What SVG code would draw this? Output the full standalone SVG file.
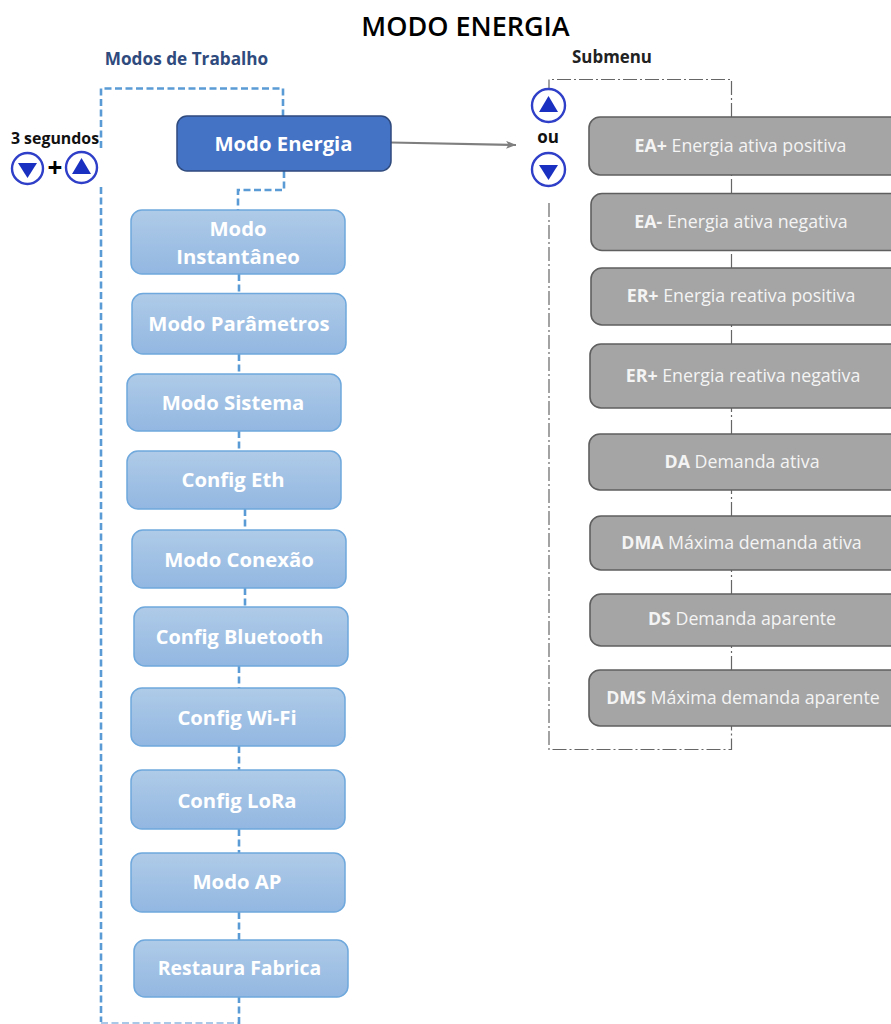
<svg xmlns="http://www.w3.org/2000/svg" width="891" height="1024" viewBox="0 0 891 1024">
<style>
text{font-family:"Open Sans","Noto Sans","Liberation Sans",sans-serif}
.m{fill:url(#lb);stroke:#6fa8dc;stroke-width:1.5}
.s{fill:#a5a5a5;stroke:#5f5f5f;stroke-width:1.6}
.mt{fill:#fff;font-size:20.3px;font-weight:700;text-anchor:middle}
.st{fill:#f4f4f4;font-size:17.8px;text-anchor:middle}
.st tspan{font-weight:700}
.d{fill:none;stroke:#5b9bd5;stroke-width:2.6;stroke-dasharray:7 3.5}
.g{fill:none;stroke:#666;stroke-width:1.2;stroke-dasharray:14 3 2 3}
.b{fill:#fff;stroke:#2f3fc8;stroke-width:2.4}
.t{fill:#1a30c0}
.h{font-weight:700;text-anchor:middle}
</style>
<defs>
<linearGradient id="lb" x1="0" y1="0" x2="0" y2="1"><stop offset="0" stop-color="#afcbe8"/><stop offset="1" stop-color="#92b7e1"/></linearGradient>
<marker id="arr" markerWidth="11" markerHeight="9" refX="10" refY="4" orient="auto" markerUnits="userSpaceOnUse"><path d="M0 0L10 4L0 8L2.500 4Z" fill="#7f7f7f"/></marker>
</defs>
<text x="465.500" y="36" class="h" style="font-size:27px;font-weight:600;fill:#000">MODO ENERGIA</text>
<text x="186.500" y="65" class="h" style="font-size:17.2px;fill:#2f4a7d">Modos de Trabalho</text>
<text x="612" y="63" class="h" style="font-size:16.9px;fill:#222">Submenu</text>

<g id="connectors">
<path class="d" d="M101 148V88.500H283V116"/>
<path class="d" d="M101 187V1022"/>
<path d="M101 1023H239" fill="none" stroke="#a9c8e8" stroke-width="2" stroke-dasharray="7 3.500"/>
<path class="d" d="M239 1024V997"/>
<path class="d" d="M284 171V190H238V210"/>
<path class="d" d="M239 274V293M239 354V374M239 431V451M245 509V530M245 588V607M239 666V688M239 746V770M239 829V853M239 912V940"/>
<path class="g" d="M549 203V749.500H731.500V726M731.500 670V646M731.500 594V570M731.500 516V490M731.500 434V408M731.500 344V325M731.500 268V250M731.500 193V175M731.500 117V79.500H549V95"/>
<path d="M391 142.500L516 145" fill="none" stroke="#7f7f7f" stroke-width="2.200" marker-end="url(#arr)"/>
</g>

<g id="node-modo-energia"><rect x="177" y="116" width="214" height="55" rx="10" fill="#4472c4" stroke="#2f4a7d" stroke-width="1.500"/><text x="283.500" y="151" class="mt">Modo Energia</text></g>
<g id="node-instantaneo"><rect class="m" x="131" y="210" width="214" height="64" rx="11"/><text x="238" y="236" class="mt">Modo</text><text x="238" y="264" class="mt">Instantâneo</text></g>
<g id="node-parametros"><rect class="m" x="132" y="293.500" width="214" height="60.500" rx="11"/><text x="239" y="331" class="mt">Modo Parâmetros</text></g>
<g id="node-sistema"><rect class="m" x="127" y="374" width="214" height="57" rx="11"/><text x="233" y="410" class="mt">Modo Sistema</text></g>
<g id="node-eth"><rect class="m" x="127" y="451" width="214" height="58" rx="11"/><text x="233" y="487" class="mt">Config Eth</text></g>
<g id="node-conexao"><rect class="m" x="132" y="530" width="214" height="58" rx="11"/><text x="239" y="567" class="mt">Modo Conexão</text></g>
<g id="node-bluetooth"><rect class="m" x="134" y="607" width="214" height="59" rx="11"/><text x="239.500" y="644" class="mt" style="font-size:19.900px">Config Bluetooth</text></g>
<g id="node-wifi"><rect class="m" x="131" y="688" width="214" height="58" rx="11"/><text x="237" y="725" class="mt">Config Wi-Fi</text></g>
<g id="node-lora"><rect class="m" x="131" y="770" width="214" height="59" rx="11"/><text x="237" y="808" class="mt">Config LoRa</text></g>
<g id="node-ap"><rect class="m" x="131" y="853" width="214" height="59" rx="11"/><text x="237" y="889" class="mt">Modo AP</text></g>
<g id="node-restaura"><rect class="m" x="134" y="940" width="214" height="57" rx="11"/><text x="239.500" y="975" class="mt" style="font-size:19.400px">Restaura Fabrica</text></g>

<g id="node-ea-pos"><rect class="s" x="589" y="117" width="320" height="58" rx="11"/><text x="740.500" y="151.500" class="st"><tspan>EA+</tspan> Energia ativa positiva</text></g>
<g id="node-ea-neg"><rect class="s" x="591" y="193.500" width="320" height="57" rx="11"/><text x="741" y="227.500" class="st"><tspan>EA-</tspan> Energia ativa negativa</text></g>
<g id="node-er-pos"><rect class="s" x="591" y="268" width="320" height="57" rx="11"/><text x="741" y="302" class="st"><tspan>ER+</tspan> Energia reativa positiva</text></g>
<g id="node-er-neg"><rect class="s" x="590" y="344" width="320" height="64" rx="11"/><text x="743" y="382" class="st"><tspan>ER+</tspan> Energia reativa negativa</text></g>
<g id="node-da"><rect class="s" x="589" y="434" width="320" height="56" rx="11"/><text x="742" y="468" class="st"><tspan>DA</tspan> Demanda ativa</text></g>
<g id="node-dma"><rect class="s" x="590" y="516" width="320" height="54" rx="11"/><text x="741.500" y="549" class="st"><tspan>DMA</tspan> Máxima demanda ativa</text></g>
<g id="node-ds"><rect class="s" x="590" y="594" width="320" height="52" rx="11"/><text x="742" y="625" class="st"><tspan>DS</tspan> Demanda aparente</text></g>
<g id="node-dms"><rect class="s" x="589" y="670" width="320" height="56" rx="11"/><text x="743" y="704" class="st"><tspan>DMS</tspan> Máxima demanda aparente</text></g>

<g id="hint-left">
<text x="55" y="144" class="h" style="font-size:15.900px;fill:#111">3 segundos</text>
<circle class="b" cx="27.500" cy="168.500" r="15.500"/><path class="t" d="M18 163H37L27.500 178Z"/>
<text x="55" y="177" class="h" style="font-size:26px;fill:#000">+</text>
<circle class="b" cx="81.500" cy="167.500" r="15.500"/><path class="t" d="M72 174H91L81.500 158Z"/>
</g>
<g id="hint-right">
<circle class="b" cx="548.500" cy="105.500" r="16.500"/><path class="t" d="M539 112H558L548.500 96Z"/>
<text x="548" y="143" class="h" style="font-size:17px;fill:#111">ou</text>
<circle class="b" cx="548.500" cy="169.500" r="16.500"/><path class="t" d="M539 165H558L548.500 180Z"/>
</g>
</svg>
